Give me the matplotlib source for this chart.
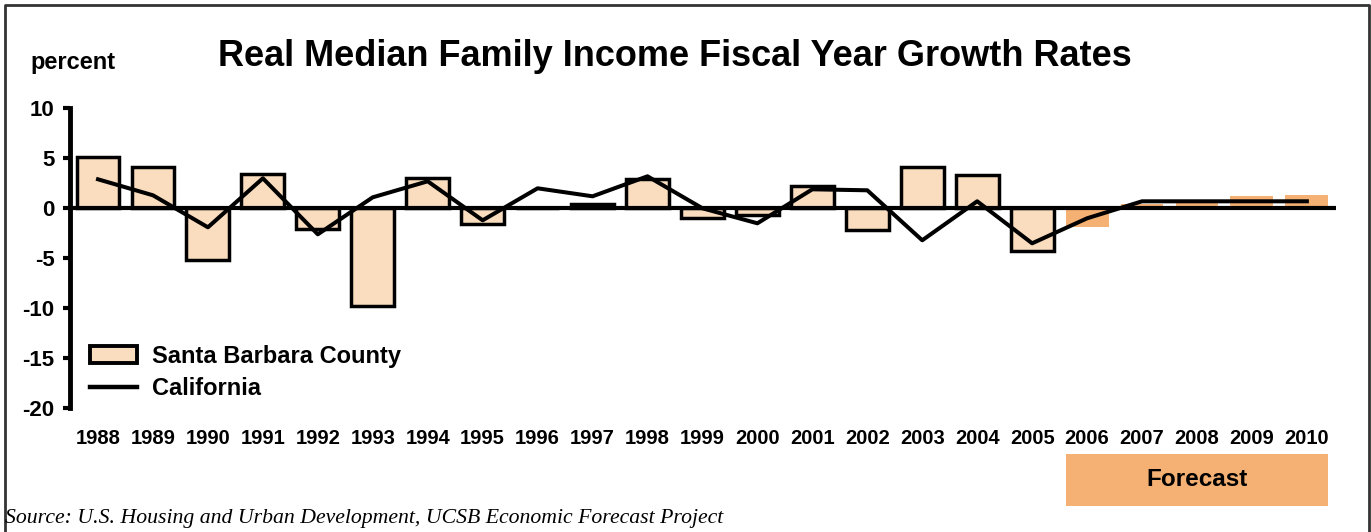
import matplotlib.pyplot as plt
from matplotlib.patches import Patch, Rectangle
from matplotlib.lines import Line2D
import numpy as np

years = [str(y) for y in range(1988, 2011)]
santa_barbara = [5.1, 4.1, -5.2, 3.4, -2.1, -9.8, 3.0, -1.6, 0.0, 0.4, 2.9, -1.0,
                 -0.7, 2.2, -2.2, 4.1, 3.3, -4.3, -1.9, 0.4, 0.6, 1.2, 1.3]
california = [2.9, 1.3, -1.9, 3.0, -2.6, 1.1, 2.7, -1.2, 2.0, 1.2, 3.2, 0.0,
              -1.5, 1.9, 1.8, -3.2, 0.7, -3.5, -1.0, 0.7, 0.7, 0.7, 0.7]
first_forecast = "2006"

plt.rcParams["font.family"] = ["Liberation Sans", "DejaVu Sans"]
plt.rcParams["font.weight"] = "bold"
plt.rcParams["axes.unicode_minus"] = False

W, H = 1371, 532
fig = plt.figure(figsize=(W / 100, H / 100), dpi=100)
ax = fig.add_axes([70 / W, 1 - 408.3 / H, (1336 - 70) / W, 300 / H])

x = np.arange(len(years))
n_hist = years.index(first_forecast)
hist_color = "#FADDBF"
fc_color = "#F5B173"

ax.bar(x[:n_hist], santa_barbara[:n_hist], width=0.78, color=hist_color,
       edgecolor="black", linewidth=2.5, zorder=2)
ax.bar(x[n_hist:], santa_barbara[n_hist:], width=0.78, color=fc_color,
       linewidth=0, zorder=2)
ax.plot(x, california, color="black", linewidth=2.9, zorder=4)
ax.axhline(0, color="black", linewidth=3, zorder=3)

ax.set_xlim(-0.51, len(years) - 1 + 0.53)
ax.set_ylim(-20, 10)
ax.set_yticks(range(-20, 11, 5))
ax.set_xticks(x)
ax.set_xticklabels(years)
ax.tick_params(axis="x", length=0, pad=15, labelsize=14.5)
ax.tick_params(axis="y", direction="out", length=5, width=3, pad=6, labelsize=16)
for s in ["top", "right", "bottom"]:
    ax.spines[s].set_visible(False)
ax.spines["left"].set_linewidth(3.5)
ax.patch.set_visible(False)

handles = [Patch(facecolor=hist_color, edgecolor="black", linewidth=2.8),
           Line2D([], [], color="black", linewidth=3.2)]
ax.legend(handles, ["Santa Barbara County", "California"], loc="upper left",
          bbox_to_anchor=(0.016, 0.212), frameon=False, borderpad=0,
          borderaxespad=0, handlelength=2.0, handleheight=0.7,
          handletextpad=0.6, labelspacing=0.4,
          prop={"weight": "bold", "size": 17})

fig.text(675 / W, 1 - 57 / H, "Real Median Family Income Fiscal Year Growth Rates",
         ha="center", va="center", fontsize=26, fontweight="bold")
fig.text(30 / W, 1 - 63 / H, "percent", ha="left", va="center", fontsize=17,
         fontweight="bold")

# forecast box under the projected years
fig.patches.append(Rectangle((1066 / W, 1 - 506 / H), 262 / W, 52 / H,
                             transform=fig.transFigure, facecolor=fc_color,
                             edgecolor="none"))
fig.text(1197 / W, 1 - 480 / H, "Forecast", ha="center", va="center",
         fontsize=17.5, fontweight="bold")

fig.text(5 / W, 1 - 518 / H,
         "Source: U.S. Housing and Urban Development, UCSB Economic Forecast Project",
         ha="left", va="center", fontsize=15.7, fontstyle="italic",
         fontweight="normal", family=["Liberation Serif", "DejaVu Serif"])

# outer frame (open at the bottom)
frame_x = [5 / W, 5 / W, 1369 / W, 1369 / W]
frame_y = [0, 1 - 5 / H, 1 - 5 / H, 0]
fig.add_artist(Line2D(frame_x, frame_y, transform=fig.transFigure,
                      color="#333333", linewidth=2))

fig.savefig("out.png", dpi=100)
